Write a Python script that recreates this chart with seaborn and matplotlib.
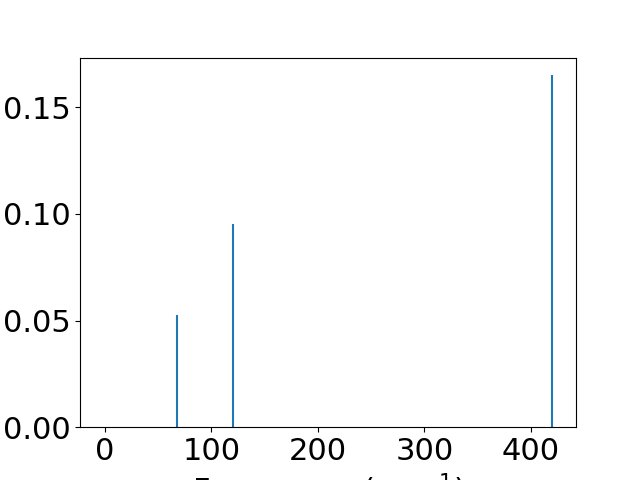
import numpy as np
import matplotlib
matplotlib.use('Agg')
import matplotlib.pyplot as plt
import seaborn as sns

# ── Data ──────────────────────────────────────────────────────────────────────
# vibrational modes: frequency (cm^-1) and intensity
frequencies = [67.6, 120.1, 419.7]
intensities = [0.0525, 0.0951, 0.165]

# ── Plot ──────────────────────────────────────────────────────────────────────
color = sns.color_palette('tab10')[0]
plt.rcParams['font.size'] = 22

fig, ax = plt.subplots(figsize=(6.4, 4.8), dpi=100)
ax.vlines(frequencies, 0, intensities, color=color, linewidth=1.5)
ax.set_xlim(-23.2, 442.2)
ax.set_ylim(bottom=0)
ax.set_xlabel('Frequency (cm$^{-1}$)')

plt.savefig('out.png', dpi=100)
